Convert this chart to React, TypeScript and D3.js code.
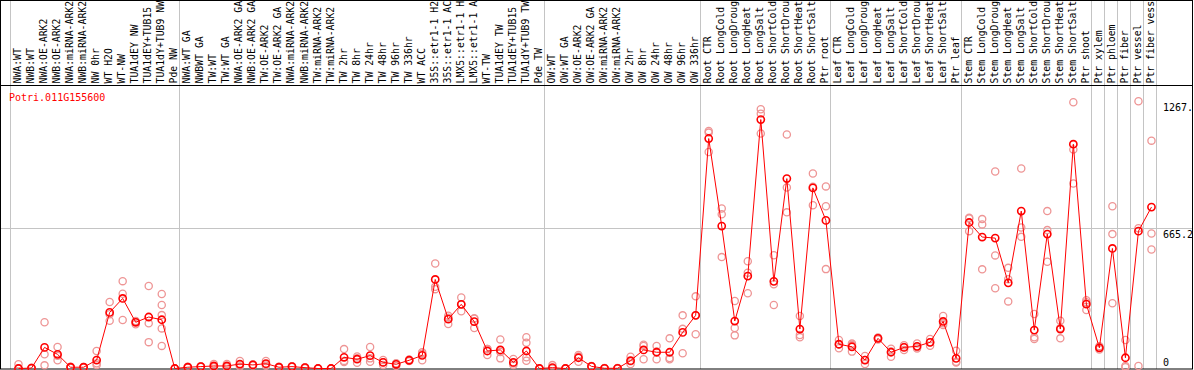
import { useEffect, useRef } from "react";
import { select, scaleBand, scaleLinear, line } from "d3";

const geneId = "Potri.011G155600";

const samples = [
  "NWA:WT", "NWB:WT", "NWA:OE-ARK2", "NWB:OE-ARK2", "NWA:miRNA-ARK2", "NWB:miRNA-ARK2",
  "NW 0hr", "WT H2O", "WT-NW", "TUA1dEY NW", "TUA1dEY+TUB15 NW", "TUA1dY+TUB9 NW", "Pde NW",
  "NWA:WT GA", "NWBWT GA", "TW:WT", "TW:WT GA", "NWA:OE-ARK2 GA", "NWB:OE-ARK2 GA",
  "TW:OE-ARK2", "TW:OE-ARK2 GA", "NWA:miRNA-ARK2 GA", "NWB:miRNA-ARK2 GA", "TW:miRNA-ARK2",
  "TW:miRNA-ARK2 GA", "TW 2hr", "TW 8hr", "TW 24hr", "TW 48hr", "TW 96hr", "TW 336hr", "WT ACC",
  "35S::etr1-1 H2O", "35S::etr1-1 ACC", "LMX5::etr1-1 H2O", "LMX5::etr1-1 ACC", "WT-TW",
  "TUA1dEY TW", "TUA1dEY+TUB15 TW", "TUA1dY+TUB9 TW", "Pde TW",
  "OW:WT", "OW:WT GA", "OW:OE-ARK2", "OW:OE-ARK2 GA", "OW:miRNA-ARK2", "OW:miRNA-ARK2 GA",
  "OW 2hr", "OW 8hr", "OW 24hr", "OW 48hr", "OW 96hr", "OW 336hr",
  "Root CTR", "Root LongCold", "Root LongDrought", "Root LongHeat", "Root LongSalt",
  "Root ShortCold", "Root ShortDrought", "Root ShortHeat", "Root ShortSalt", "Ptr root",
  "Leaf CTR", "Leaf LongCold", "Leaf LongDrought", "Leaf LongHeat", "Leaf LongSalt",
  "Leaf ShortCold", "Leaf ShortDrought", "Leaf ShortHeat", "Leaf ShortSalt", "Ptr leaf",
  "Stem CTR", "Stem LongCold", "Stem LongDrought", "Stem LongHeat", "Stem LongSalt",
  "Stem ShortCold", "Stem ShortDrought", "Stem ShortHeat", "Stem ShortSalt", "Ptr shoot",
  "Ptr xylem", "Ptr phloem", "Ptr fiber", "Ptr vessel", "Ptr fiber vessel",
];

const means = [
  0, 2, 100, 67, 6, 6, 40, 266, 332, 219, 244, 231, 0,
  6, 9, 12, 12, 21, 17, 23, 6, 9, 4, 0, 0, 53, 44, 61, 29, 20, 39, 62,
  422, 234, 304, 222, 83, 88, 29, 83, 0,
  4, 0, 51, 10, 1, 1, 37, 88, 77, 77, 171, 252,
  1090, 675, 225, 438, 1180, 413, 900, 187, 856, 702,
  115, 103, 40, 143, 77, 100, 105, 124, 223, 48,
  692, 623, 618, 406, 746, 182, 637, 187, 1063, 305,
  98, 569, 51, 651, 765,
];

const replicates = [
  [20, 0, 0], [0, 0, 4], [219, 67, 15], [102, 39, 60], [4, 6, 8], [5, 6, 7],
  [83, 25, 17], [315, 226, 257], [414, 354, 230], [210, 225, 222], [391, 214, 125],
  [353, 301, 253, 190, 107], [0, 0, 0],
  [4, 6, 8], [7, 9, 11], [21, 9, 6], [21, 9, 6], [36, 18, 9], [20, 17, 14], [36, 20, 13],
  [4, 6, 8], [7, 9, 11], [2, 4, 6], [0, 0, 0], [0, 0, 0], [92, 31, 36], [48, 27, 57],
  [102, 32, 48], [40, 17, 30], [25, 12, 23], [35, 39, 43], [77, 39, 70],
  [498, 387, 376], [250, 211, 241], [337, 271, 304], [238, 192, 236], [64, 92, 93],
  [138, 48, 78], [45, 17, 25], [148, 122, 53, 37], [0, 0, 0],
  [16, 0, 0], [0, 0, 0], [64, 32, 57], [8, 10, 12], [0, 1, 2], [0, 1, 2],
  [56, 21, 34], [107, 44, 113], [107, 44, 80], [143, 44, 50], [252, 188, 72], [342, 162, 252],
  [1118, 1026, 1126], [758, 731, 528], [320, 192, 157], [508, 454, 357], [1229, 1208, 1114],
  [537, 399, 301], [1109, 858, 740], [249, 159, 148], [924, 861, 774], [863, 769, 471],
  [135, 96, 114], [80, 118, 111], [59, 21, 40], [147, 138, 144], [56, 94, 81],
  [110, 88, 102], [119, 95, 101], [140, 108, 124], [249, 206, 214], [84, 32, 28],
  [714, 651, 711], [708, 683, 470], [934, 536, 380], [477, 318, 423], [948, 668, 624],
  [258, 140, 148], [746, 656, 506], [226, 143, 192], [1262, 1038, 877], [324, 277, 314],
  [98, 90, 106], [769, 637, 309], [135, 12, 6], [1267, 12, 665], [1080, 640, 564],
];

// indices where a new sample group starts (grey separators)
const groupBreaks = [0, 13, 41, 53, 63, 73, 83, 84, 85, 86, 87, 88];

const yMax = 1330.4;
const tickValues = [0, 665.2, 1267];
const tickLabels = ["0", "665.2", "1267."];

const font = "'DejaVu Sans Mono', monospace";
// the label strip only has room for this many characters
const maxLabelChars = 14;

export default function App() {
  const ref = useRef(null);
  const width = 1194;
  const height = 370;
  const labelBottom = 85.5;

  useEffect(() => {
    const svg = select(ref.current);
    svg.selectAll("*").remove();

    const x = scaleBand()
      .domain(samples.map((_, i) => i))
      .range([10, 1156]);
    const px = (i) => x(i) + 8.5;

    const y = scaleLinear().domain([0, yMax]).range([368.5, 87.8]);

    // grid
    svg
      .selectAll("line.vgrid")
      .data(groupBreaks)
      .enter()
      .append("line")
      .attr("x1", (k) => Math.round(10 + k * x.step()) + 0.5)
      .attr("x2", (k) => Math.round(10 + k * x.step()) + 0.5)
      .attr("y1", 0)
      .attr("y2", 369)
      .attr("stroke", "#c4c4c4")
      .attr("stroke-width", 1);

    svg
      .append("line")
      .attr("x1", 1)
      .attr("x2", 1192)
      .attr("y1", Math.round(y(665.2)) + 0.5)
      .attr("y2", Math.round(y(665.2)) + 0.5)
      .attr("stroke", "#c4c4c4");

    // frame
    svg
      .append("rect")
      .attr("x", 0.5)
      .attr("y", 0.5)
      .attr("width", 1192)
      .attr("height", 368.5)
      .attr("fill", "none")
      .attr("stroke", "#000");
    svg
      .append("line")
      .attr("x1", 0)
      .attr("x2", 1193)
      .attr("y1", labelBottom)
      .attr("y2", labelBottom)
      .attr("stroke", "#000");

    // sample labels
    svg
      .selectAll("text.sample")
      .data(samples)
      .enter()
      .append("text")
      .attr("transform", (d, i) => `translate(${px(i) + 2.5},83.5) rotate(-90)`)
      .attr("font-family", font)
      .attr("font-size", 9.8)
      .attr("fill", "#000")
      .text((d) => d.slice(0, maxLabelChars));

    // replicate points
    const reps = replicates.flatMap((r, i) => r.map((v) => ({ i, v })));
    svg
      .selectAll("circle.rep")
      .data(reps)
      .enter()
      .append("circle")
      .attr("cx", (d) => px(d.i))
      .attr("cy", (d) => y(d.v))
      .attr("r", 3.6)
      .attr("fill", "none")
      .attr("stroke", "#ee9595")
      .attr("stroke-width", 1.3);

    // mean line
    const meanLine = line()
      .x((d, i) => px(i))
      .y((d) => y(d));
    svg
      .append("path")
      .datum(means)
      .attr("d", meanLine)
      .attr("fill", "none")
      .attr("stroke", "#ff0000")
      .attr("stroke-width", 1);

    svg
      .selectAll("circle.mean")
      .data(means)
      .enter()
      .append("circle")
      .attr("cx", (d, i) => px(i))
      .attr("cy", (d) => y(d))
      .attr("r", 3.6)
      .attr("fill", "none")
      .attr("stroke", "#ff0000")
      .attr("stroke-width", 1.6);

    // title
    svg
      .append("text")
      .attr("x", 9)
      .attr("y", 100.5)
      .attr("font-family", font)
      .attr("font-size", 10)
      .attr("fill", "#ff0000")
      .text(geneId);

    // right axis labels
    svg
      .selectAll("text.tick")
      .data(tickValues)
      .enter()
      .append("text")
      .attr("x", 1163)
      .attr("y", (v) => (v === 0 ? y(v) - 3 : y(v) + 9.5))
      .attr("font-family", font)
      .attr("font-size", 10)
      .attr("fill", "#000")
      .text((v, i) => tickLabels[i]);
  }, []);

  return (
    <>
      <style>{`body{margin:0}`}</style>
      <svg ref={ref} width={width} height={height} style={{ display: "block" }} />
    </>
  );
}
